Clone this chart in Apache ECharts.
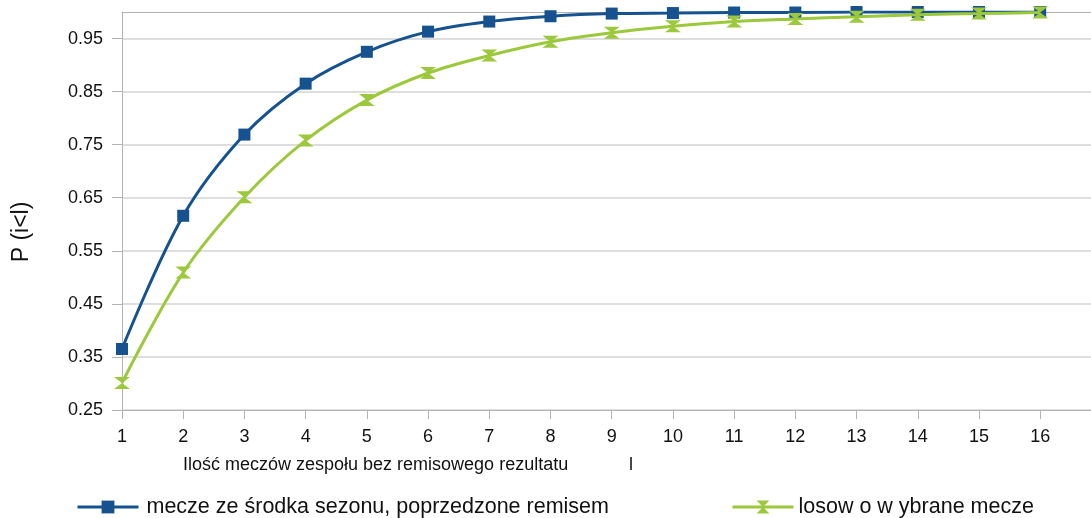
<!DOCTYPE html>
<html>
<head>
<meta charset="utf-8">
<script src="https://cdn.jsdelivr.net/npm/echarts@6/dist/echarts.min.js"></script>
<style>html,body{margin:0;padding:0;background:#fff}#c{width:1091px;height:518px}</style>
</head>
<body>
<div id="c"></div>
<script>
const categories = [1,2,3,4,5,6,7,8,9,10,11,12,13,14,15,16];
const seriesBlueName = 'mecze ze środka sezonu, poprzedzone remisem';
const seriesGreenName = 'losow o w ybrane mecze';
const blueValues = [0.365,0.616,0.769,0.865,0.925,0.963,0.982,0.992,0.997,0.998,0.999,0.999,1.0,1.0,1.0,1.0];
const greenValues = [0.301,0.509,0.651,0.758,0.834,0.885,0.918,0.944,0.961,0.973,0.982,0.987,0.991,0.995,0.997,0.999];
const yTickLabels = [0.25,0.35,0.45,0.55,0.65,0.75,0.85,0.95];
const yAxisTitle = 'P (i<l)';
const xAxisTitle = 'Ilość meczów zespołu bez remisowego rezultatu';
const xAxisTitleVar = 'l';

const font = 'Liberation Sans, Arial, sans-serif';
const blue = '#15528f';
const green = '#9cc83c';
const hourglass = 'path://M0,0 L10,0 L5,5 L10,10 L0,10 L5,5 Z';

const chart = echarts.init(document.getElementById('c'), null, {renderer:'canvas'});
chart.setOption({
  animation:false,
  backgroundColor:'#fff',
  textStyle:{fontFamily:font},
  grid:{left:122,right:0,top:12,bottom:108,outerBoundsMode:'none',containLabel:false},
  xAxis:[{
    type:'value', min:1, max:16.83, interval:1,
    axisLine:{show:true,lineStyle:{color:'#b3b3b3',width:1}},
    axisTick:{show:true,length:9,lineStyle:{color:'#b3b3b3'},customValues:categories},
    axisLabel:{color:'#111',fontSize:18,fontFamily:font,margin:18,customValues:categories,
      formatter:v=>String(v)},
    splitLine:{show:false}
  },{
    type:'value', min:1, max:16.83, position:'top',
    axisLine:{show:true,lineStyle:{color:'#b3b3b3',width:1}},
    axisTick:{show:false},axisLabel:{show:false},splitLine:{show:false}
  }],
  yAxis:{
    type:'value', min:0.25, max:1.0,
    axisLine:{show:true,lineStyle:{color:'#b3b3b3',width:1}},
    axisTick:{show:true,length:10,lineStyle:{color:'#b3b3b3'},customValues:yTickLabels},
    axisLabel:{color:'#111',fontSize:18,fontFamily:font,margin:19,customValues:yTickLabels,
      formatter:v=>v.toFixed(2)},
    splitLine:{show:true,lineStyle:{color:'#d3d3d3',width:1.5}}
  },
  legend:[{
    data:[seriesBlueName], left:76, top:496, padding:0, itemWidth:61, itemHeight:16,
    lineStyle:{width:3},
    textStyle:{fontSize:21.5,color:'#111',fontFamily:font,padding:[0,0,0,3]}
  },{
    data:[seriesGreenName], left:731, top:496, padding:0, itemWidth:61, itemHeight:16,
    lineStyle:{width:3},
    textStyle:{fontSize:21.5,color:'#111',fontFamily:font}
  }],
  graphic:[
    {type:'text',x:22,y:232,rotation:Math.PI/2,
     style:{text:yAxisTitle,font:'23px '+font,fill:'#111',align:'center',verticalAlign:'middle'}},
    {type:'text',x:183,y:456,style:{text:xAxisTitle,font:'18px '+font,fill:'#111'}},
    {type:'text',x:629,y:456,style:{text:xAxisTitleVar,font:'18px '+font,fill:'#111'}}
  ],
  series:[{
    name:seriesBlueName, type:'line', smooth:0.35,
    data:categories.map((c,i)=>[c,blueValues[i]]),
    symbol:'rect', symbolSize:12,
    lineStyle:{color:blue,width:3}, itemStyle:{color:blue}, z:2
  },{
    name:seriesGreenName, type:'line', smooth:0.35,
    data:categories.map((c,i)=>[c,greenValues[i]]),
    symbol:hourglass, symbolSize:[16,12],
    lineStyle:{color:green,width:3}, itemStyle:{color:green}, z:3
  }]
});
</script>
</body>
</html>
